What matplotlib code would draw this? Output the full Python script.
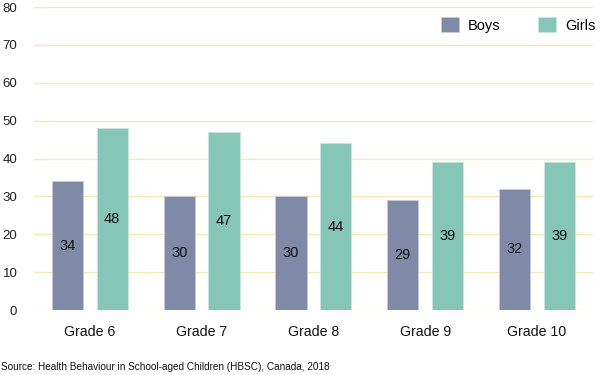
import matplotlib
matplotlib.use("Agg")
import matplotlib.pyplot as plt
import numpy as np

plt.rcParams['font.family'] = ['Liberation Sans', 'DejaVu Sans']

categories = ["Grade 6", "Grade 7", "Grade 8", "Grade 9", "Grade 10"]
boys = [34, 30, 30, 29, 32]
girls = [48, 47, 44, 39, 39]
yticks = [0, 10, 20, 30, 40, 50, 60, 70, 80]

fig = plt.figure(figsize=(6, 3.75), dpi=100)
ax = fig.add_axes([0.0567, 0.1733, 0.9313, 0.808])

x = np.arange(len(categories))
w = 0.28
off = 0.2
c_boys = "#7f8ba6"
c_girls = "#85c6b6"
b1 = ax.bar(x - off, boys, w, color=c_boys, edgecolor="#c8ccd8", linewidth=0.6, label="Boys", zorder=3)
b2 = ax.bar(x + off, girls, w, color=c_girls, edgecolor="#c8e6de", linewidth=0.6, label="Girls", zorder=3)

for bars, vals in ((b1, boys), (b2, girls)):
    for r, v in zip(bars, vals):
        ax.text(r.get_x() + r.get_width() / 2, v / 2, str(v), ha="center", va="center",
                fontsize=10.5, color="#111111", zorder=4)

ax.set_xlim(-0.5, len(categories) - 0.5)
ax.set_ylim(0, 80)
ax.set_yticks(yticks)
ax.set_yticklabels([str(t) for t in yticks], fontsize=9.5, color="#222222")
ax.set_xticks(x)
ax.set_xticklabels(categories, fontsize=10.2, color="#111111")
ax.tick_params(axis="y", length=0, pad=12)
ax.tick_params(axis="x", length=0, pad=11)
for s in ax.spines.values():
    s.set_visible(False)
ax.yaxis.grid(True, color="#f9e8b5", linewidth=1.0, zorder=0)
ax.set_axisbelow(True)

leg = ax.legend(loc="upper right", bbox_to_anchor=(1.023, 1.0), ncol=2, frameon=False,
                fontsize=10.5, handlelength=1.25, handleheight=1.2, columnspacing=2.6,
                handletextpad=0.6, borderaxespad=0.3)

fig.text(0.002, 0.022, "Source: Health Behaviour in School-aged Children (HBSC), Canada, 2018",
         fontsize=7.2, color="#111111", ha="left", va="center")

fig.savefig("out.png", dpi=100)
